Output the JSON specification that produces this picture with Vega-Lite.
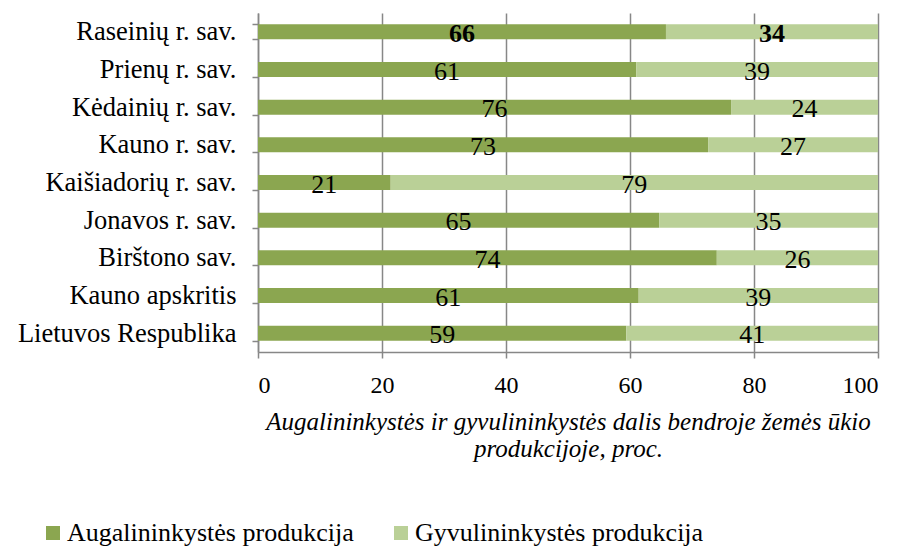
{
  "$schema": "https://vega.github.io/schema/vega-lite/v6.json",
  "width": 620,
  "height": 339,
  "autosize": {"type": "none"},
  "padding": {"left": 258, "top": 13, "right": 24, "bottom": 198},
  "background": "white",
  "config": {
    "font": "Liberation Serif",
    "view": {"stroke": null}
  },
  "data": {
    "values": [
      {"region": "Raseinių r. sav.", "type": "Augalininkystės produkcija", "ord": 1, "value": 65.8, "label": "66"},
      {"region": "Raseinių r. sav.", "type": "Gyvulininkystės produkcija", "ord": 2, "value": 34.2, "label": "34"},
      {"region": "Prienų r. sav.", "type": "Augalininkystės produkcija", "ord": 1, "value": 61.0, "label": "61"},
      {"region": "Prienų r. sav.", "type": "Gyvulininkystės produkcija", "ord": 2, "value": 39.0, "label": "39"},
      {"region": "Kėdainių r. sav.", "type": "Augalininkystės produkcija", "ord": 1, "value": 76.3, "label": "76"},
      {"region": "Kėdainių r. sav.", "type": "Gyvulininkystės produkcija", "ord": 2, "value": 23.7, "label": "24"},
      {"region": "Kauno r. sav.", "type": "Augalininkystės produkcija", "ord": 1, "value": 72.6, "label": "73"},
      {"region": "Kauno r. sav.", "type": "Gyvulininkystės produkcija", "ord": 2, "value": 27.4, "label": "27"},
      {"region": "Kaišiadorių r. sav.", "type": "Augalininkystės produkcija", "ord": 1, "value": 21.4, "label": "21"},
      {"region": "Kaišiadorių r. sav.", "type": "Gyvulininkystės produkcija", "ord": 2, "value": 78.6, "label": "79"},
      {"region": "Jonavos r. sav.", "type": "Augalininkystės produkcija", "ord": 1, "value": 64.7, "label": "65"},
      {"region": "Jonavos r. sav.", "type": "Gyvulininkystės produkcija", "ord": 2, "value": 35.3, "label": "35"},
      {"region": "Birštono sav.", "type": "Augalininkystės produkcija", "ord": 1, "value": 74.0, "label": "74"},
      {"region": "Birštono sav.", "type": "Gyvulininkystės produkcija", "ord": 2, "value": 26.0, "label": "26"},
      {"region": "Kauno apskritis", "type": "Augalininkystės produkcija", "ord": 1, "value": 61.4, "label": "61"},
      {"region": "Kauno apskritis", "type": "Gyvulininkystės produkcija", "ord": 2, "value": 38.6, "label": "39"},
      {"region": "Lietuvos Respublika", "type": "Augalininkystės produkcija", "ord": 1, "value": 59.4, "label": "59"},
      {"region": "Lietuvos Respublika", "type": "Gyvulininkystės produkcija", "ord": 2, "value": 40.6, "label": "41"}
    ]
  },
  "encoding": {
    "y": {
      "field": "region",
      "type": "nominal",
      "sort": null,
      "scale": {"paddingInner": 0.6, "paddingOuter": 0.3},
      "axis": {
        "title": null,
        "tickBand": "extent",
        "tickSize": 6,
        "tickColor": "#878787",
        "domainColor": "#878787",
        "domainWidth": 1.5,
        "tickWidth": 1.5,
        "labelFont": "Liberation Serif",
        "labelFontSize": 26.5,
        "labelColor": "#000000",
        "labelPadding": 16,
        "labelLimit": 0
      }
    },
    "x": {
      "field": "value",
      "type": "quantitative",
      "stack": "zero",
      "scale": {"domain": [0, 100]},
      "axis": {
        "values": [0, 20, 40, 60, 80, 100],
        "grid": true,
        "gridColor": "#878787",
        "gridWidth": 1.5,
        "tickColor": "#878787",
        "tickWidth": 1.5,
        "domainColor": "#878787",
        "domainWidth": 1.5,
        "tickSize": 6,
        "labelFont": "Liberation Serif",
        "labelFontSize": 24,
        "labelColor": "#000000",
        "labelPadding": 15,
        "title": ["Augalininkystės ir gyvulininkystės dalis bendroje žemės ūkio", "produkcijoje, proc."],
        "titleFont": "Liberation Serif",
        "titleFontStyle": "italic",
        "titleFontWeight": "normal",
        "titleFontSize": 25,
        "titleLineHeight": 27,
        "titleColor": "#000000",
        "titlePadding": 12,
        "titleLimit": 0
      }
    },
    "order": {"field": "ord", "type": "quantitative"}
  },
  "layer": [
    {
      "mark": {"type": "bar"},
      "encoding": {
        "color": {
          "field": "type",
          "type": "nominal",
          "scale": {
            "domain": ["Augalininkystės produkcija", "Gyvulininkystės produkcija"],
            "range": ["#8ba650", "#bad097"]
          },
          "legend": {
            "title": null,
            "orient": "none",
            "direction": "horizontal",
            "legendX": -218,
            "legendY": 507,
            "symbolType": "square",
            "symbolSize": 196,
            "symbolStrokeWidth": 0,
            "labelFont": "Liberation Serif",
            "labelFontSize": 26,
            "labelColor": "#000000",
            "labelOffset": 1,
            "labelLimit": 0,
            "columnPadding": 34
          }
        }
      }
    },
    {
      "transform": [{"filter": "datum.region !== 'Raseinių r. sav.'"}],
      "mark": {"type": "text", "fontSize": 26, "font": "Liberation Serif", "color": "#000000", "baseline": "middle", "dy": 2},
      "encoding": {
        "x": {"field": "value", "type": "quantitative", "stack": "zero", "bandPosition": 0.5},
        "text": {"field": "label"}
      }
    },
    {
      "transform": [{"filter": "datum.region === 'Raseinių r. sav.'"}],
      "mark": {"type": "text", "fontSize": 26, "fontWeight": "bold", "font": "Liberation Serif", "color": "#000000", "baseline": "middle", "dy": 2},
      "encoding": {
        "x": {"field": "value", "type": "quantitative", "stack": "zero", "bandPosition": 0.5},
        "text": {"field": "label"}
      }
    }
  ]
}
